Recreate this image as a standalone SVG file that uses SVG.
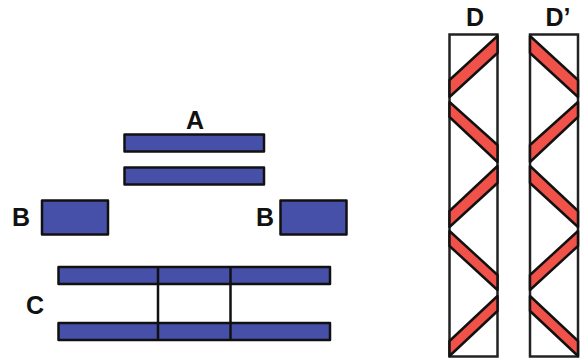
<svg xmlns="http://www.w3.org/2000/svg" width="584" height="358" viewBox="0 0 584 358">
<style>
.bar{fill:#4650a8;stroke:#111;stroke-width:2.500;stroke-linejoin:round}
.link{fill:none;stroke:#111;stroke-width:2.500}
.frame{fill:#fff;stroke:#222;stroke-width:2.500}
.strip{fill:#f0524a;stroke:#111;stroke-width:2.500;stroke-linejoin:round}
text{font-family:"Liberation Sans",Arial,sans-serif;font-size:25px;font-weight:700;fill:#111;text-anchor:middle}
</style>
<rect width="584" height="358" fill="#fff"/>
<g id="node-A">
<rect class="bar" x="124.500" y="134.500" width="139.500" height="17"/>
<rect class="bar" x="124.500" y="167.500" width="139.500" height="17"/>
<text x="195" y="129">A</text>
</g>
<g id="node-B-left">
<rect class="bar" x="42" y="200.500" width="66" height="34"/>
<text x="21" y="226">B</text>
</g>
<g id="node-B-right">
<rect class="bar" x="280.500" y="200.500" width="66" height="34"/>
<text x="265" y="226">B</text>
</g>
<g id="node-C">
<rect class="bar" x="58.500" y="267" width="271.500" height="17"/>
<rect class="bar" x="58.500" y="323" width="271.500" height="17"/>
<text x="35" y="314">C</text>
</g>
<g id="connectors">
<path class="link" d="M158 267V340M230.500 267V340"/>
</g>
<g id="node-D">
<rect class="frame" x="449.500" y="34.500" width="48" height="322"/>
<path class="strip" d="M497.500 36V53L449.500 97V80Z"/>
<path class="strip" d="M449.500 102V117L497.500 162V145Z"/>
<path class="strip" d="M497.500 166V183L449.500 227V211Z"/>
<path class="strip" d="M449.500 231V246L497.500 290V275Z"/>
<path class="strip" d="M497.500 296V311L449.500 356V341Z"/>
<text x="475" y="26">D</text>
</g>
<g id="node-D-prime">
<rect class="frame" x="530" y="34.500" width="48" height="322"/>
<path class="strip" d="M530 36V53L578 97V80Z"/>
<path class="strip" d="M578 102V117L530 162V145Z"/>
<path class="strip" d="M530 166V183L578 227V211Z"/>
<path class="strip" d="M578 231V246L530 290V275Z"/>
<path class="strip" d="M530 296V311L578 356V341Z"/>
<text x="558" y="26">D’</text>
</g>
</svg>
